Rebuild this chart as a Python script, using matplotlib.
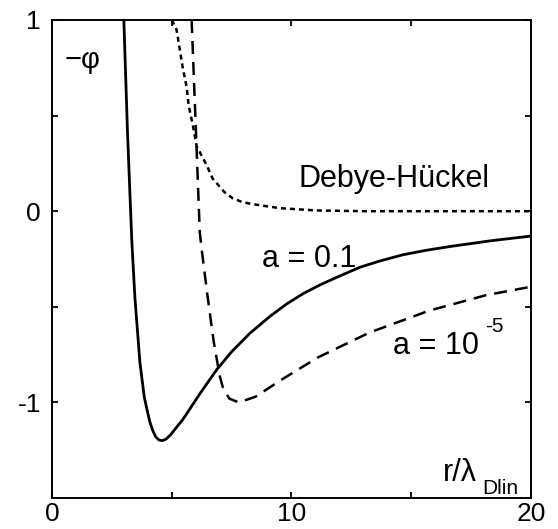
import matplotlib
matplotlib.use("Agg")
import matplotlib.pyplot as plt

plt.rcParams['font.family'] = ['Liberation Sans', 'DejaVu Sans']
plt.rcParams['axes.unicode_minus'] = False

# a = 0.1 (solid)
r_a01 = [3.0, 3.15, 3.33, 3.46, 3.67, 3.85, 3.97, 4.08, 4.2, 4.33, 4.47, 4.6,
         4.75, 4.95, 5.2, 5.46, 6.2, 6.87, 7.5, 8.25, 9.1, 9.8, 10.5, 11.2,
         11.9, 12.86, 13.7, 14.65, 15.6, 16.6, 18.3, 20.0]
phi_a01 = [1.0, 0.42, -0.15, -0.45, -0.79, -0.97, -1.04, -1.1, -1.145, -1.18, -1.197, -1.2,
           -1.193, -1.17, -1.13, -1.09, -0.95, -0.83, -0.735, -0.64, -0.55, -0.485, -0.43, -0.385,
           -0.345, -0.293, -0.26, -0.228, -0.205, -0.185, -0.155, -0.13]

# a = 1e-5 (dashed)
r_a5 = [5.83, 6.0, 6.17, 6.25, 6.5, 6.75, 7.0, 7.13, 7.4, 7.8, 8.5, 9.6,
        11.1, 13.25, 15.75, 18.1, 20.0]
phi_a5 = [1.0, 0.45, -0.11, -0.2, -0.45, -0.68, -0.86, -0.92, -0.98, -1.0, -0.97, -0.88,
          -0.765, -0.635, -0.52, -0.44, -0.395]

# Debye-Hueckel (dotted)
r_dh = [5.0, 5.2, 5.33, 5.46, 5.62, 5.71, 5.88, 6.04, 6.25, 6.46, 6.71, 7.2,
        7.54, 7.96, 8.38, 8.96, 9.5, 11.0, 13.0, 20.0]
phi_dh = [1.0, 0.95, 0.85, 0.75, 0.65, 0.55, 0.45, 0.34, 0.29, 0.24, 0.17, 0.10,
          0.068, 0.047, 0.037, 0.026, 0.016, 0.004, 0.0, 0.0]

xticks = [0, 10, 20]
yticks = [1, 0, -1]

fig = plt.figure(figsize=(5.58, 5.29), dpi=100)
ax = fig.add_axes([0.0932, 0.0586, 0.8584, 0.9036])

ax.plot(r_a01, phi_a01, color='black', lw=2.0)
ax.plot(r_a5, phi_a5, color='black', lw=1.8, dashes=(5.2, 3.2))
ax.plot(r_dh, phi_dh, color='black', lw=1.8, dashes=(2.0, 1.6))

ax.set_xlim(0, 20)
ax.set_ylim(-1.5, 1)
ax.set_xticks(xticks)
ax.set_xticklabels([str(v) for v in xticks])
ax.set_yticks(yticks)
ax.set_yticklabels([str(v) for v in yticks])
ax.set_xticks([5, 15], minor=True)
ax.set_yticks([0.5, -0.5], minor=True)
ax.tick_params(which='both', direction='in', top=True, right=True,
               length=4.5, width=1.3, labelsize=19)
ax.tick_params(axis='x', pad=3)
ax.tick_params(axis='y', pad=8)
for s in ax.spines.values():
    s.set_linewidth(1.4)

ax.text(0.027, 0.916, '\u2212\u03c6', transform=ax.transAxes, fontsize=21,
        ha='left', va='center')
ax.text(14.29, 0.126, 'Debye-H\u00fcckel', fontsize=22, ha='center', va='baseline')
ax.text(8.75, -0.29, 'a = 0.1', fontsize=22, ha='left', va='baseline')
ax.text(14.25, -0.745, 'a = 10', fontsize=22, ha='left', va='baseline')
ax.text(18.1, -0.63, '-5', fontsize=15, ha='left', va='baseline')
ax.text(16.3, -1.41, 'r/\u03bb', fontsize=22, ha='left', va='baseline')
ax.text(17.95, -1.478, 'Dlin', fontsize=15, ha='left', va='baseline')

fig.savefig('out.png', dpi=100)
